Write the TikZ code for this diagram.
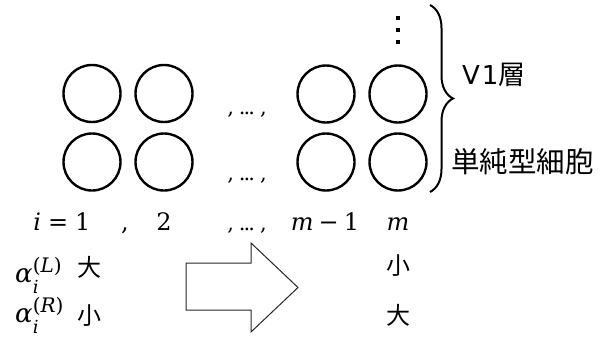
\documentclass[tikz,border=0pt]{standalone}
\usepackage{fontspec}
\newfontfamily\jp{Noto Sans CJK JP}
\newfontfamily\dvs{DejaVu Sans}
\newfontfamily\mf{DejaVu Serif}
\usetikzlibrary{decorations.pathreplacing}
% formula pieces set with text fonts
\newcommand{\tightdots}{,\hspace{5pt}.\kern-2pt.\kern-2pt.\hspace{5pt},}
\newcommand{\coef}[2]{\textit{α}\rlap{\raisebox{-11pt}{\fontsize{18}{18}\selectfont\itshape #1}}%
  \raisebox{10pt}{\fontsize{20}{20}\selectfont(\textit{#2})}}
\tikzset{
  cell/.style={circle, draw=black, line width=2.4pt, minimum size=57pt, inner sep=0pt},
  mlabel/.style={anchor=base, inner sep=0pt, font=\mf\fontsize{24}{28}\selectfont},
  jlabel/.style={inner sep=0pt, font=\jp\fontsize{24}{28}\selectfont},
  vdot/.style={fill=black, minimum size=4pt, inner sep=0pt},
  bigarrow/.style={draw=black!85, line width=1pt, fill=white}
}
\begin{document}
\begin{tikzpicture}[x=1pt,y=-1pt]
\useasboundingbox (0,0) rectangle (611,338);

% two rows of cells
\node[cell] (c11) at (92,93.5) {};
\node[cell] (c12) at (164,93.5) {};
\node[cell] (c13) at (326,94) {};
\node[cell] (c14) at (398,94) {};
\node[cell] (c21) at (92,162) {};
\node[cell] (c22) at (164,162) {};
\node[cell] (c23) at (326,162) {};
\node[cell] (c24) at (398,162) {};

% ellipses between the columns
\node[mlabel, font=\mf\fontsize{21}{24}\selectfont] (e1) at (247,114) {\tightdots};
\node[mlabel, font=\mf\fontsize{21}{24}\selectfont] (e2) at (247,180) {\tightdots};

% vertical dots above the last column
\node[vdot] (d1) at (398,18) {};
\node[vdot] (d2) at (398,30) {};
\node[vdot] (d3) at (398,42) {};

% brace and layer labels
\coordinate (btop) at (430,5);
\coordinate (bbot) at (430,192);
\draw[line width=2pt, decorate, decoration={brace, amplitude=23pt}] (btop) -- (bbot);
\node[inner sep=0pt, anchor=base west] (v1) at (462,84)
  {{\dvs\fontsize{26}{28}\selectfont V\kern2pt1}{\jp\fontsize{27}{28}\selectfont 層}};
\node[jlabel, anchor=west, font=\jp\fontsize{28.5}{31}\selectfont] (simple) at (451,162) {単純型細胞};

% index row
\node[mlabel] (i1) at (62,230) {\textit{i}\hspace{7pt}=\hspace{7pt}1};
\node[mlabel] (k1) at (125,230) {,};
\node[mlabel] (i2) at (164,230) {2};
\node[mlabel, font=\mf\fontsize{21}{24}\selectfont] (k2) at (247,230) {\tightdots};
\node[mlabel] (i3) at (325,230) {\textit{m}\hspace{5pt}−\hspace{5pt}1};
\node[mlabel] (i4) at (398,230) {\textit{m}};

% coefficient rows
\node[mlabel, anchor=base west, font=\mf\fontsize{26}{28}\selectfont] (aL) at (15,282) {\coef{i}{L}};
\node[mlabel, anchor=base west, font=\mf\fontsize{26}{28}\selectfont] (aR) at (15,322) {\coef{i}{R}};
\node[jlabel] (aLl) at (89,267) {大};
\node[jlabel] (aRl) at (89,316) {小};
\node[jlabel] (aLr) at (398,266) {小};
\node[jlabel] (aRr) at (398,315) {大};

% block arrow
\draw[bigarrow] (186,263) -- (251,263) -- (251,243) -- (298,287.5)
  -- (251,332) -- (251,310) -- (186,310) -- cycle;
\end{tikzpicture}
\end{document}
